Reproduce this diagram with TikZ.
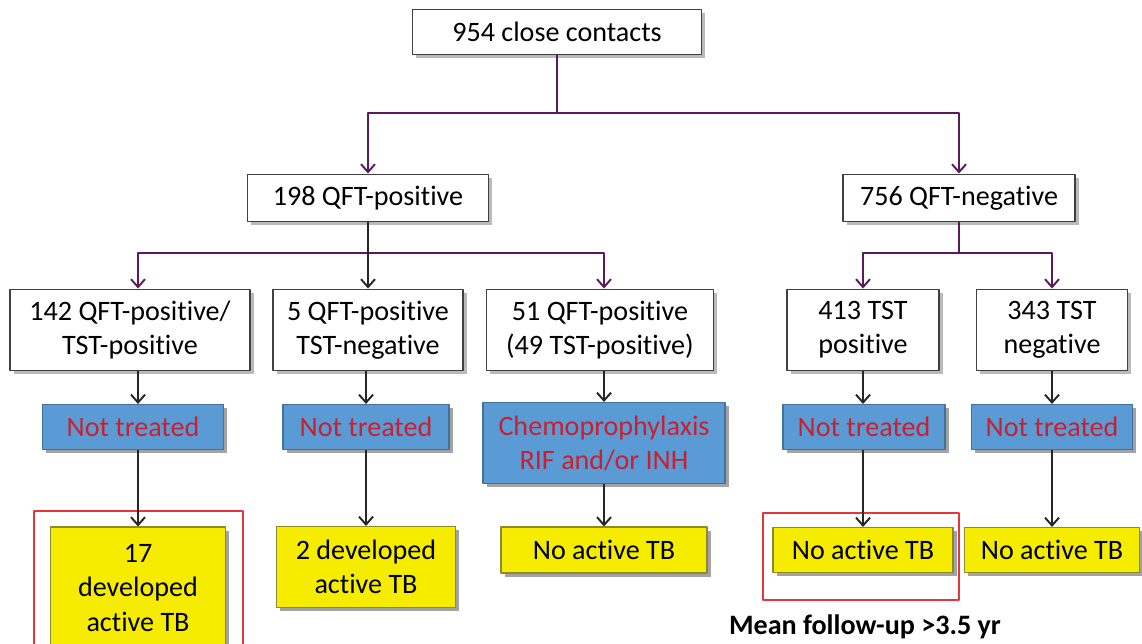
\documentclass[tikz,border=0pt]{standalone}
\usepackage{fontspec}
\setmainfont{Carlito}[Ligatures=NoCommon]
\usepackage{tikz}
\usetikzlibrary{arrows.meta,shadows}
\usetikzlibrary{positioning}

\definecolor{plum}{RGB}{92,26,94}
\definecolor{ntblue}{RGB}{91,155,213}
\definecolor{ntedge}{RGB}{65,113,156}
\definecolor{ntred}{RGB}{200,32,47}
\definecolor{tbyellow}{RGB}{245,236,0}
\definecolor{hlred}{RGB}{232,52,63}

\tikzset{
  box/.style={draw=black!75,line width=1.1pt,fill=white,align=center,inner sep=0pt,
    drop shadow={shadow xshift=2pt,shadow yshift=-2pt,fill=black!45,opacity=.6}},
  ntbox/.style={draw=ntedge,line width=.6pt,fill=ntblue,text=ntred,align=center,inner sep=0pt,
    drop shadow={shadow xshift=2pt,shadow yshift=-2pt,fill=black!60,opacity=.6}},
  tbbox/.style={draw=olive!70!gray,line width=.6pt,fill=tbyellow,align=center,inner sep=0pt,
    drop shadow={shadow xshift=2pt,shadow yshift=-2pt,fill=black!60,opacity=.6}},
  sz/.style 2 args={minimum width=#1*0.02cm,minimum height=#2*0.02cm},
  pline/.style={plum,line width=1.1pt},
  barr/.style={black!85,line width=1.1pt,-{Straight Barb[length=4.5pt,width=8pt]}},
  parr/.style={pline,-{Straight Barb[length=4.5pt,width=8pt]}},
  hl/.style={hlred,line width=.8pt}
}

\begin{document}
\begin{tikzpicture}[x=0.02cm,y=-0.02cm,font=\fontsize{16}{19.5}\selectfont,line join=round]
\useasboundingbox (0,0) rectangle (1142,644);
% highlight frames
\draw[hl] (34,660) -- (34,511) -- (243,511) -- (243,660);
\draw[hl] (763,513) rectangle (959,600);
% contacts and QFT split
\node[box,sz={289}{45}] (top) at (557,32) {954 close contacts};
\node[box,sz={241}{47}] (qpos) at (368,198) {198 QFT-positive};
\node[box,sz={232}{47}] (qneg) at (959,198) {756 QFT-negative};
% QFT / TST groups
\node[box,sz={240}{81}] (b1) at (130,330) {142 QFT-positive/\\TST-positive};
\node[box,sz={190}{81}] (b2) at (368,330) {5 QFT-positive\\TST-negative};
\node[box,sz={227}{81}] (b3) at (600,330) {51 QFT-positive\\(49 TST-positive)};
\node[box,sz={152}{81}] (b4) at (863,330) {413 TST\\positive};
\node[box,sz={151}{81}] (b5) at (1052,330) {343 TST\\negative};
% treatment
\node[ntbox,sz={181}{45}] (nt1) at (133,427) {Not treated};
\node[ntbox,sz={166}{45}] (nt2) at (366,427) {Not treated};
\node[ntbox,sz={242}{81}] (chemo) at (604,443) {Chemoprophylaxis\\RIF and/or INH};
\node[ntbox,sz={162}{45}] (nt4) at (864,427) {Not treated};
\node[ntbox,sz={161}{45}] (nt5) at (1052,427) {Not treated};
% outcomes
\node[tbbox,sz={175}{122}] (y1) at (138,588) {17\\developed\\active TB};
\node[tbbox,sz={179}{81}] (y2) at (366,567) {2 developed\\active TB};
\node[tbbox,sz={206}{46}] (y3) at (604,550) {No active TB};
\node[tbbox,sz={180}{45}] (y4) at (863,550) {No active TB};
\node[tbbox,sz={175}{45}] (y5) at (1052,550) {No active TB};
\node[font=\fontsize{16}{19.5}\selectfont\bfseries] (fu) at (865,627) {Mean follow-up >3.5 yr};
% branch lines
\coordinate (bus1) at (557,113);
\coordinate (bus2) at (368,253);
\coordinate (bus3) at (959,253);
\draw[pline] (top.south) -- (bus1);
\draw[parr] (bus1) -| (qpos.north);
\draw[parr] (bus1) -| (qneg.north);
\draw[parr] (bus2) -| (b1.north -| y1.north);
\draw[parr] (bus2) -| (b3.north -| chemo.north);
\draw[barr] (qpos.south) -- (b2.north);
\draw[pline] (qneg.south) -- (bus3);
\draw[parr] (bus3) -| (b4.north);
\draw[parr] (bus3) -| (b5.north);
% columns
\draw[barr] (b1.south -| y1.north) -- (nt1.north -| y1.north);
\draw[barr] (nt1.south -| y1.north) -- (y1.north);
\draw[barr] (b2.south -| nt2.north) -- (nt2.north);
\draw[barr] (nt2.south) -- (y2.north);
\draw[barr] (b3.south -| chemo.north) -- (chemo.north);
\draw[barr] (chemo.south) -- (y3.north);
\draw[barr] (b4.south) -- (nt4.north -| b4.south);
\draw[barr] (nt4.south -| b4.south) -- (y4.north -| b4.south);
\draw[barr] (b5.south) -- (nt5.north);
\draw[barr] (nt5.south) -- (y5.north);
\end{tikzpicture}
\end{document}
